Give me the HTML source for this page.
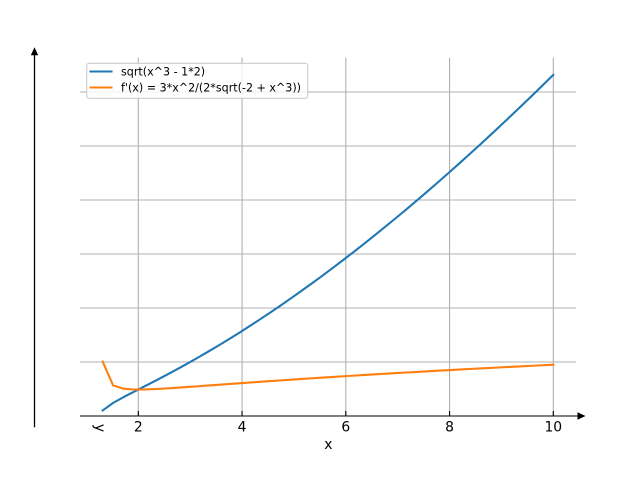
<!DOCTYPE html>
<html>
<head>
<meta charset="utf-8">
<style>
html,body{margin:0;padding:0;background:#fff;}
svg{display:block;}
text{font-family:"DejaVu Sans","Liberation Sans",sans-serif;fill:#000;}
</style>
</head>
<body>
<svg width="640" height="480" viewBox="0 0 640 480" xmlns="http://www.w3.org/2000/svg">
<rect width="640" height="480" fill="#fff"/>
<!-- grid -->
<g stroke="#b0b0b0" stroke-width="1.1" fill="none">
<line x1="80" y1="92" x2="576" y2="92"/>
<line x1="80" y1="146" x2="576" y2="146"/>
<line x1="80" y1="200" x2="576" y2="200"/>
<line x1="80" y1="254" x2="576" y2="254"/>
<line x1="80" y1="308" x2="576" y2="308"/>
<line x1="80" y1="362" x2="576" y2="362"/>
<line x1="138.3" y1="57.6" x2="138.3" y2="416"/>
<line x1="242.05" y1="57.6" x2="242.05" y2="416"/>
<line x1="345.8" y1="57.6" x2="345.8" y2="416"/>
<line x1="449.55" y1="57.6" x2="449.55" y2="416"/>
<line x1="553.3" y1="57.6" x2="553.3" y2="416"/>
</g>
<!-- series -->
<polyline fill="none" stroke="#1f77b4" stroke-width="2.08" stroke-linejoin="round" stroke-linecap="square"
points="102.67,410.45 113.15,402.87 123.63,397.10 134.11,391.68 144.59,386.34 155.07,380.94 165.55,375.44 176.03,369.82 186.51,364.05 196.99,358.14 207.47,352.07 217.95,345.85 228.43,339.48 238.91,332.95 249.38,326.27 259.86,319.44 270.34,312.46 280.82,305.33 291.30,298.06 301.78,290.65 312.26,283.10 322.74,275.41 333.22,267.58 343.70,259.62 354.18,251.52 364.66,243.30 375.14,234.95 385.62,226.47 396.10,217.87 406.58,209.14 417.06,200.29 427.54,191.32 438.02,182.23 448.50,173.03 458.98,163.71 469.46,154.27 479.94,144.72 490.42,135.06 500.90,125.29 511.38,115.41 521.86,105.42 532.34,95.33 542.82,85.12 553.30,74.82"/>
<polyline fill="none" stroke="#ff7f0e" stroke-width="2.08" stroke-linejoin="round" stroke-linecap="square"
points="102.67,361.66 113.15,385.41 123.63,388.71 134.11,389.50 144.59,389.46 155.07,389.07 165.55,388.49 176.03,387.82 186.51,387.10 196.99,386.35 207.47,385.59 217.95,384.83 228.43,384.06 238.91,383.31 249.38,382.56 259.86,381.82 270.34,381.09 280.82,380.37 291.30,379.66 301.78,378.96 312.26,378.27 322.74,377.59 333.22,376.92 343.70,376.26 354.18,375.61 364.66,374.97 375.14,374.34 385.62,373.72 396.10,373.10 406.58,372.50 417.06,371.90 427.54,371.31 438.02,370.72 448.50,370.15 458.98,369.58 469.46,369.01 479.94,368.46 490.42,367.90 500.90,367.36 511.38,366.82 521.86,366.29 532.34,365.76 542.82,365.24 553.30,364.72"/>
<!-- axes -->
<line x1="80" y1="416" x2="579" y2="416" stroke="#000" stroke-width="1.1"/>
<polygon points="585.5,416 577.5,412.3 577.5,419.7" fill="#000"/>
<line x1="34.5" y1="54" x2="34.5" y2="427.2" stroke="#000" stroke-width="1.3"/>
<polygon points="34.5,47.3 30.8,55.3 38.2,55.3" fill="#000"/>
<!-- ticks -->
<g stroke="#000" stroke-width="1.1">
<line x1="138.3" y1="411" x2="138.3" y2="416"/>
<line x1="242.05" y1="411" x2="242.05" y2="416"/>
<line x1="345.8" y1="411" x2="345.8" y2="416"/>
<line x1="449.55" y1="411" x2="449.55" y2="416"/>
<line x1="553.3" y1="411" x2="553.3" y2="416"/>
</g>
<g font-size="13.89" text-anchor="middle">
<text x="138.3" y="431.5">2</text>
<text x="242.05" y="431.5">4</text>
<text x="345.8" y="431.5">6</text>
<text x="449.55" y="431.5">8</text>
<text x="553.3" y="431.5">10</text>
<text x="328.3" y="449">x</text>
<text transform="translate(95.5,428) rotate(90)" x="0" y="0">y</text>
</g>
<!-- legend -->
<rect x="86.7" y="63.3" width="221" height="35" rx="2.5" ry="2.5" fill="#fff" fill-opacity="0.8" stroke="#cccccc" stroke-width="1.1"/>
<line x1="89.5" y1="71.5" x2="112.5" y2="71.5" stroke="#1f77b4" stroke-width="2.08"/>
<line x1="89.5" y1="87.5" x2="112.5" y2="87.5" stroke="#ff7f0e" stroke-width="2.08"/>
<g font-size="11.11">
<text x="121" y="75.5">sqrt(x^3 - 1*2)</text>
<text x="121" y="91.5">f'(x) = 3*x^2/(2*sqrt(-2 + x^3))</text>
</g>
</svg>
</body>
</html>
